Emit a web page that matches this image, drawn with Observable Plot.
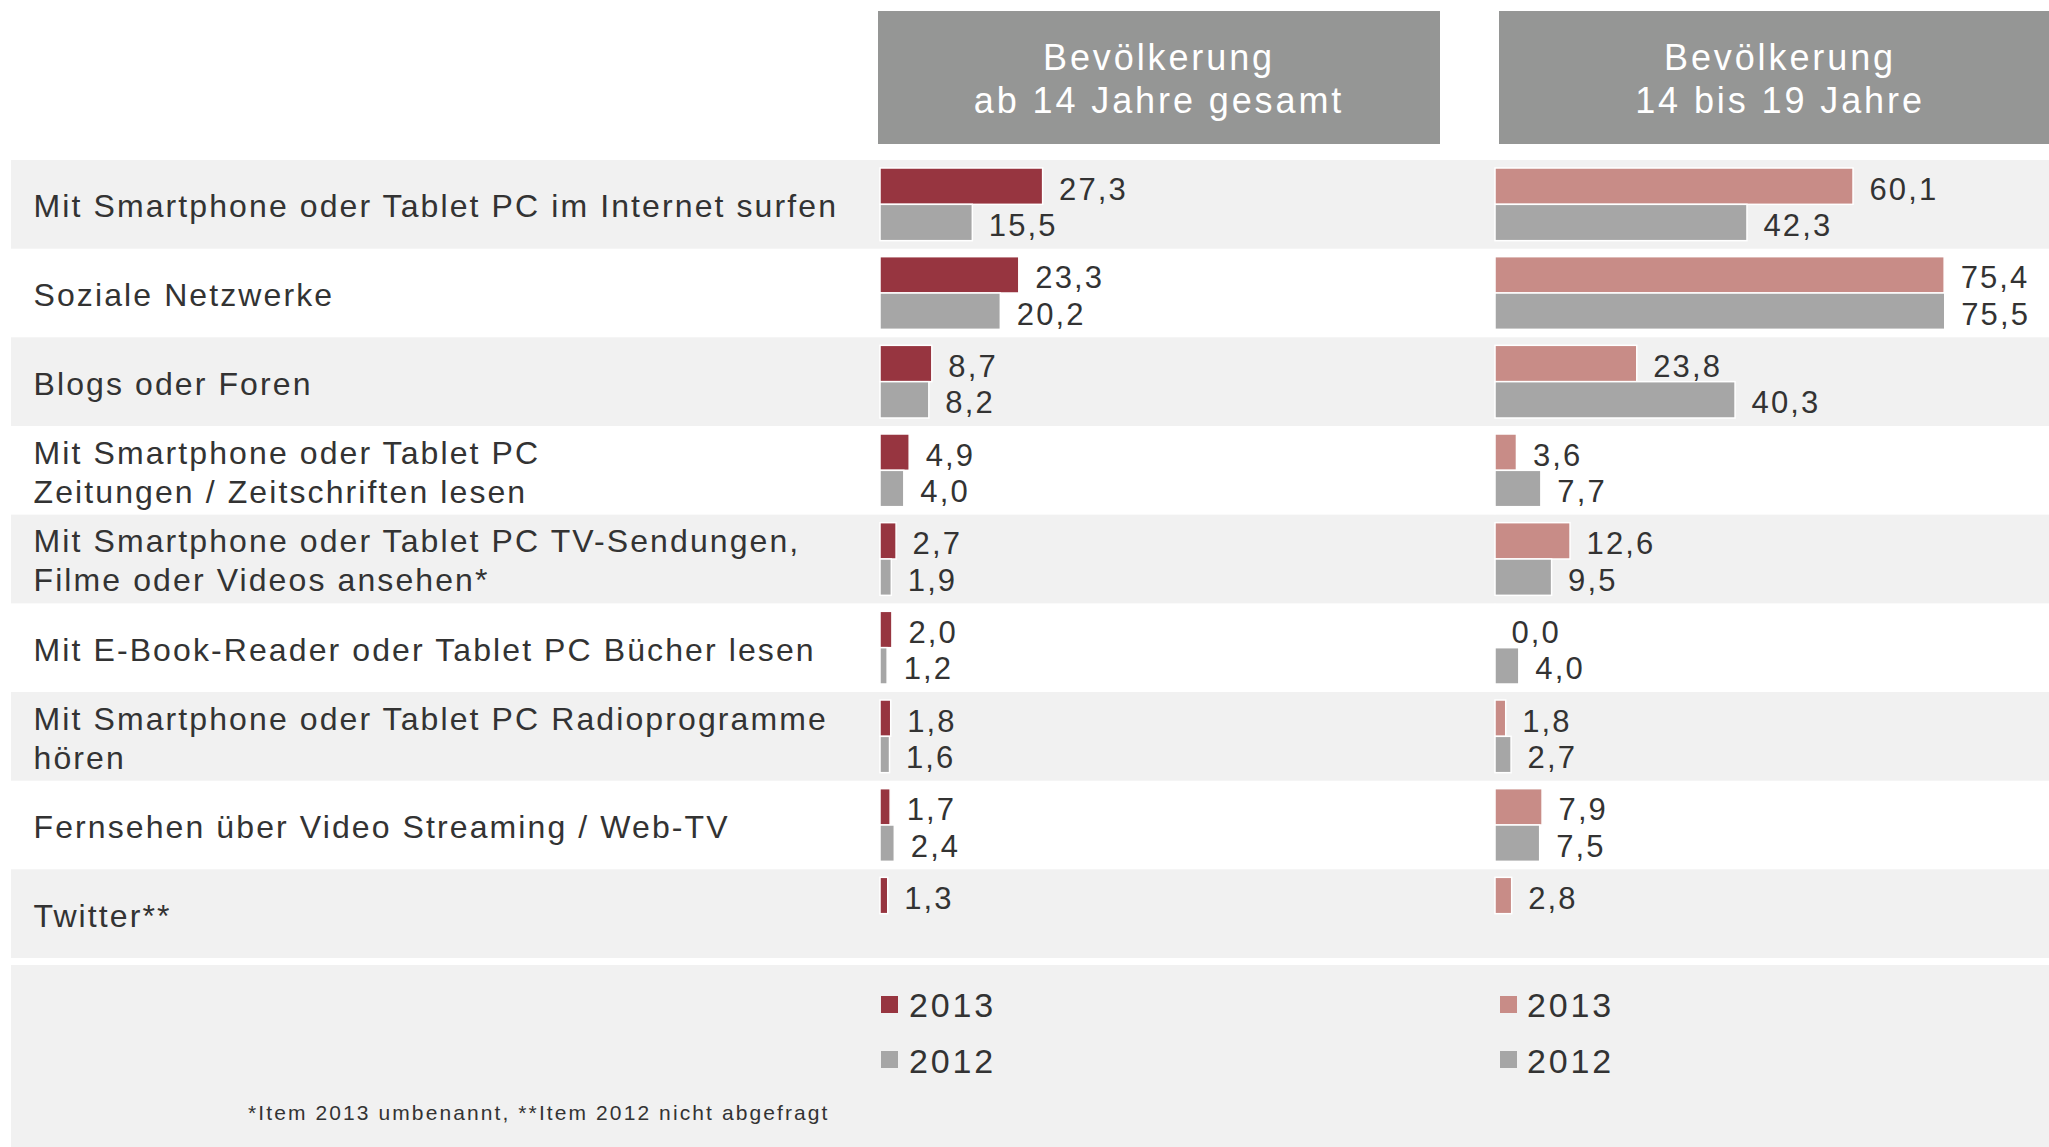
<!DOCTYPE html>
<html>
<head>
<meta charset="utf-8">
<script src="https://cdn.jsdelivr.net/npm/d3@7"></script>
<script src="https://cdn.jsdelivr.net/npm/@observablehq/plot@0.6"></script>
<style>
  html, body { margin: 0; padding: 0; background: #fff; }
  #page { position: relative; width: 2049px; height: 1147px; overflow: hidden; background: #fff;
          font-family: 'Liberation Sans', Arial, sans-serif; color: #333; }
  .hdr { position: absolute; top: 11px; height: 133px; width: 562px; background: #959695; color: #fff;
         display: flex; flex-direction: column; justify-content: center; align-items: center;
         font-size: 36px; letter-spacing: 2.9px; line-height: 43px; padding-top: 3px; box-sizing: border-box;
         white-space: pre; text-align: center; }
  #chart { position: absolute; left: 0; top: 160px; }
  #legend { position: absolute; left: 11px; top: 965px; width: 2038px; height: 182px; background: #f1f1f1; }
  .sw { position: absolute; width: 17px; height: 17px; }
  .lt { position: absolute; font-size: 34px; line-height: 34px; letter-spacing: 2.8px; }
  #foot { position: absolute; font-size: 21px; line-height: 21px; letter-spacing: 2.1px; white-space: nowrap; }
</style>
</head>
<body>
<div id="page">
  <div id="headers"></div>
  <div id="chart"></div>
  <div id="legend"></div>
</div>
<script>
// ---------- data ----------
const categories = [
  "Mit Smartphone oder Tablet PC im Internet surfen",
  "Soziale Netzwerke",
  "Blogs oder Foren",
  "Mit Smartphone oder Tablet PC\nZeitungen / Zeitschriften lesen",
  "Mit Smartphone oder Tablet PC TV-Sendungen,\nFilme oder Videos ansehen*",
  "Mit E-Book-Reader oder Tablet PC Bücher lesen",
  "Mit Smartphone oder Tablet PC Radioprogramme\nhören",
  "Fernsehen über Video Streaming / Web-TV",
  "Twitter**"
];
const gesamt2013 = [27.3, 23.3, 8.7, 4.9, 2.7, 2.0, 1.8, 1.7, 1.3];
const gesamt2012 = [15.5, 20.2, 8.2, 4.0, 1.9, 1.2, 1.6, 2.4, null];
const jugend2013 = [60.1, 75.4, 23.8, 3.6, 12.6, 0.0, 1.8, 7.9, 2.8];
const jugend2012 = [42.3, 75.5, 40.3, 7.7, 9.5, 4.0, 2.7, 7.5, null];
const panelKeys = ["gesamt", "jugend"];
const panelTitles = ["Bevölkerung\nab 14 Jahre gesamt", "Bevölkerung\n14 bis 19 Jahre"];
const years = ["2013", "2012"];
const colorKeys = ["gesamt-2013", "gesamt-2012", "jugend-2013", "jugend-2012"];
const colorRange = ["#973540", "#a6a6a6", "#c88c87", "#a6a6a6"];
const footnote = "*Item 2013 umbenannt, **Item 2012 nicht abgefragt";
const XMAX = 93;

// ---------- table ----------
const series = {gesamt: {"2013": gesamt2013, "2012": gesamt2012}, jugend: {"2013": jugend2013, "2012": jugend2012}};
const rows = [];
for (const p of panelKeys) for (const yr of years) categories.forEach((c, i) => {
  const v = series[p][yr][i];
  if (v != null) rows.push({panel: p, year: yr, cat: c, value: v, key: p + "-" + yr});
});
const stripeCats = categories.filter((_, i) => i % 2 === 0);
const fmt = v => d3.format(".1f")(v).replace(".", ",");

// ---------- headers ----------
const hdrLeft = [878, 1499];
const hdrs = document.getElementById("headers");
panelTitles.forEach((t, i) => {
  const d = document.createElement("div");
  d.className = "hdr";
  d.style.left = hdrLeft[i] + "px";
  d.textContent = t;
  hdrs.appendChild(d);
});

// ---------- chart ----------
const chart = Plot.plot({
  width: 2049,
  height: 798,
  marginLeft: 880, marginRight: 0, marginTop: 0, marginBottom: 0,
  style: "background:transparent;overflow:visible;font-family:'Liberation Sans',Arial,sans-serif;font-size:32px;letter-spacing:2.1px;color:#333;",
  x: {domain: [0, XMAX], axis: null},
  y: {domain: years, axis: null, paddingInner: 0, paddingOuter: 0.22, round: false},
  fx: {domain: panelKeys, axis: null, paddingInner: 0.0992, paddingOuter: 0, round: false},
  fy: {domain: categories, axis: null, padding: 0, round: false},
  color: {domain: colorKeys, range: colorRange},
  marks: [
    Plot.barX(stripeCats, {fx: () => "gesamt", fy: d => d, x1: 0, x2: XMAX, fill: "#f1f1f1", insetLeft: -869, insetRight: -61}),
    Plot.barX(stripeCats, {fx: () => "jugend", fy: d => d, x1: 0, x2: XMAX, fill: "#f1f1f1"}),
    Plot.barX(rows, {fx: "panel", fy: "cat", y: "year", x: "value", fill: "key", stroke: "white", strokeWidth: 1.5}),
    Plot.text(rows, {fx: "panel", fy: "cat", y: "year", x: "value", text: d => fmt(d.value), textAnchor: "start", dx: 16, dy: 3, fill: "#333", fontSize: 31}),
    Plot.text(categories, {fx: () => "gesamt", fy: d => d, text: d => d, frameAnchor: "left", textAnchor: "start", dx: -847, lineHeight: 1.22, fill: "#333"})
  ]
});
document.getElementById("chart").appendChild(chart);

// ---------- legend ----------
const legend = document.getElementById("legend");
const legX = [[870, 898], [1489, 1516]];
const legRows = [{sq: 31, tx: 23}, {sq: 86, tx: 79}];
panelKeys.forEach((p, pi) => {
  years.forEach((yr, yi) => {
    const sw = document.createElement("div");
    sw.className = "sw";
    sw.style.left = legX[pi][0] + "px";
    sw.style.top = legRows[yi].sq + "px";
    sw.style.background = colorRange[colorKeys.indexOf(p + "-" + yr)];
    legend.appendChild(sw);
    const t = document.createElement("div");
    t.className = "lt";
    t.style.left = legX[pi][1] + "px";
    t.style.top = legRows[yi].tx + "px";
    t.textContent = yr;
    legend.appendChild(t);
  });
});
const f = document.createElement("div");
f.id = "foot";
f.style.left = "237px";
f.style.top = "137px";
f.textContent = footnote;
legend.appendChild(f);
</script>
</body>
</html>
